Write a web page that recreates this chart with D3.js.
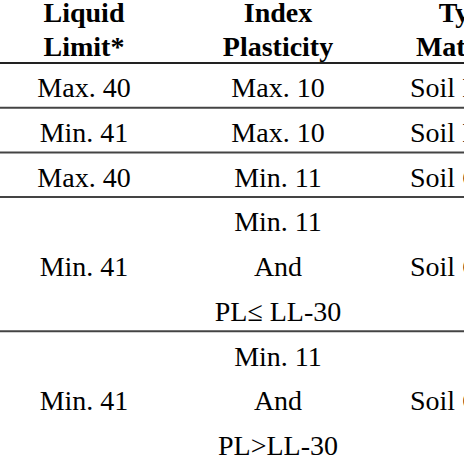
<!DOCTYPE html>
<html><head><meta charset="utf-8">
<script src="https://cdn.jsdelivr.net/npm/d3@7"></script>
<style>body{margin:0;background:#fff;overflow:hidden}</style>
</head><body>
<svg id="table"></svg>
<script>
var headers = [["Liquid", "Limit*"], ["Index", "Plasticity"], ["Type", "Material"]];
var liquidLimit = ["Max. 40", "Min. 41", "Max. 40", "Min. 41", "Min. 41"];
var plasticity = [["Max. 10"], ["Max. 10"], ["Min. 11"], ["Min. 11", "And", "PL\u2264 LL-30"], ["Min. 11", "And", "PL>LL-30"]];
var material = ["Soil ML", "Soil MH", "Soil CL", "Soil CH", "Soil OH"];

var width = 464, height = 464,
    line_height = 44.7,
    header_bottom = 63,
    col_x = [84, 278, 410];

var svg = d3.select('#table').attr('width', width).attr('height', height);

// y scale in "text line" units, starting below the header rule
var y = d3.scaleLinear().domain([0, 1]).range([header_bottom, header_bottom + line_height]);

svg.append('line').attr('x1', 0).attr('x2', width)
  .attr('y1', header_bottom).attr('y2', header_bottom)
  .attr('stroke', '#222').attr('stroke-width', 2);

headers.forEach(function(h, i){
  h.forEach(function(t, j){
    svg.append('text')
      .attr('x', i == 2 ? 468 : col_x[i]).attr('y', 22 + 34 * j)
      .attr('text-anchor', 'middle')
      .style('font', 'bold 28px "Liberation Serif", serif')
      .text(t);
  });
});

var start = 0;
liquidLimit.forEach(function(ll, i){
  var n = plasticity[i].length;
  var mid = start + n / 2;
  var txt = function(x, yy, s, anchor){
    svg.append('text').attr('x', x).attr('y', yy)
      .attr('text-anchor', anchor || 'middle')
      .style('font', '28px "Liberation Serif", serif')
      .text(s);
  };
  txt(col_x[0], y(mid) + 12, ll);
  plasticity[i].forEach(function(p, j){ txt(col_x[1], y(start + j + 0.5) + 12, p); });
  txt(col_x[2], y(mid) + 12, material[i], 'start');
  start += n;
  if (i < liquidLimit.length - 1) {
    svg.append('line').attr('x1', 0).attr('x2', width)
      .attr('y1', y(start)).attr('y2', y(start))
      .attr('stroke', '#444').attr('stroke-width', 2);
  }
});
</script>
</body></html>
